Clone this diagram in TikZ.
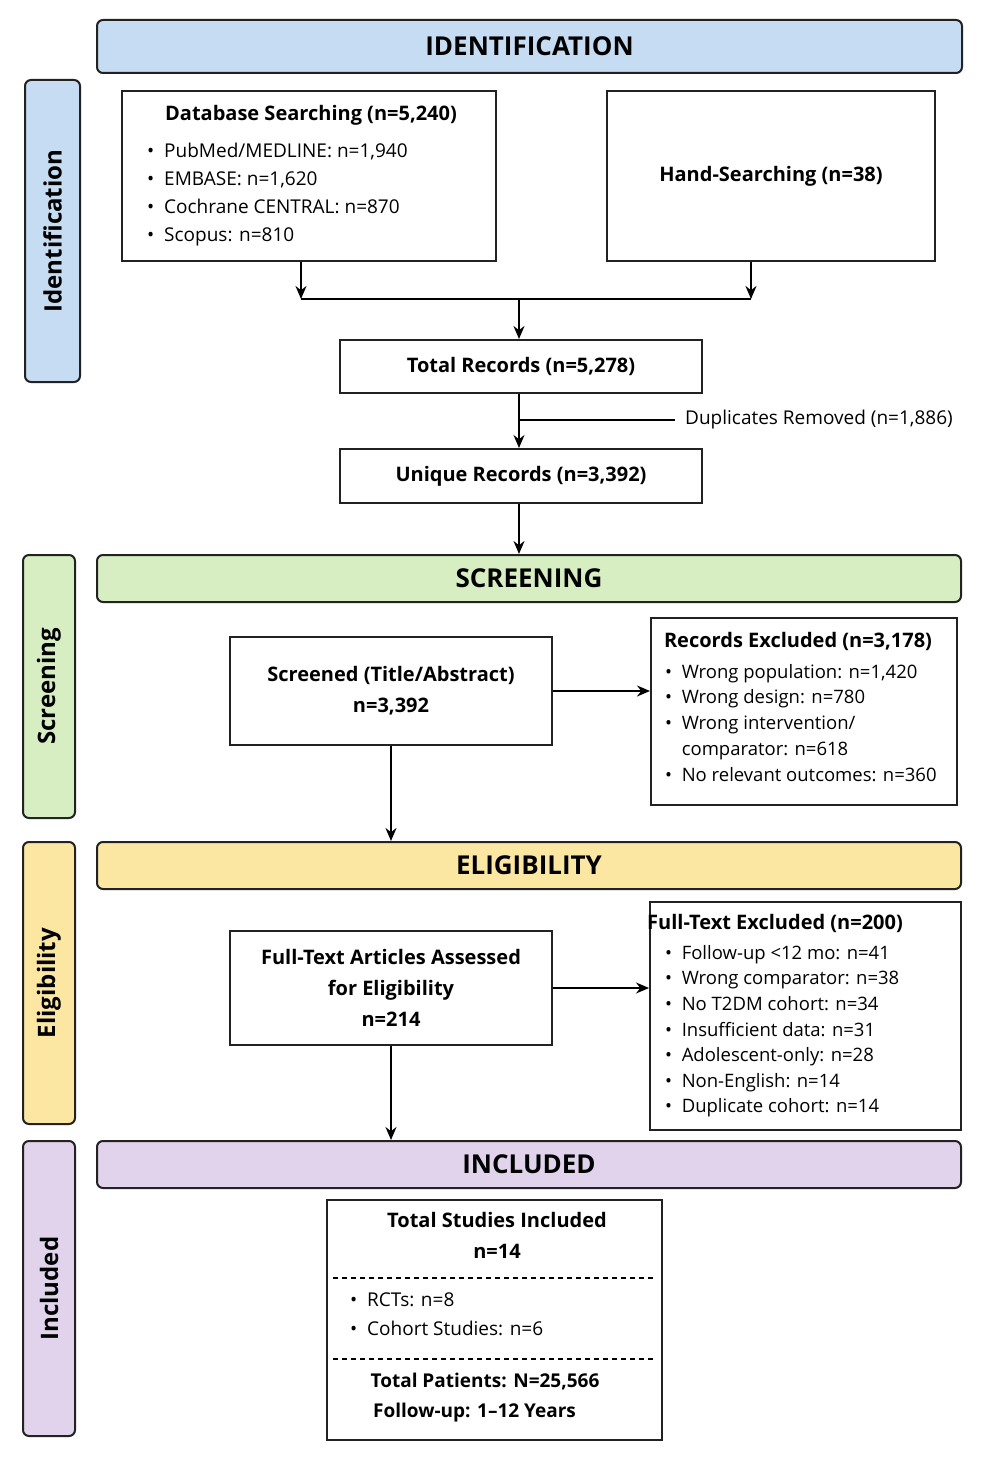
\documentclass[tikz,border=0pt]{standalone}
\usepackage{fontspec}
\setmainfont{Open Sans}
\usetikzlibrary{arrows.meta}
\definecolor{cblue}{HTML}{C6DCF2}
\definecolor{cgreen}{HTML}{D6EEC2}
\definecolor{cyellow}{HTML}{FBE6A2}
\definecolor{cpurple}{HTML}{E1D3EC}
\definecolor{edge}{HTML}{222222}
\tikzset{
  box/.style={draw=edge,line width=2pt,inner sep=0pt,fill=white},
  hdr/.style={draw=edge,line width=2pt,rounded corners=6pt,inner sep=0pt,font=\fontsize{26}{30}\selectfont\bfseries},
  side/.style={draw=edge,line width=2pt,rounded corners=6pt,inner sep=0pt,font=\fontsize{24}{28}\selectfont\bfseries},
  txt/.style={font=\fontsize{19}{28}\selectfont,inner sep=0pt},
  btxt/.style={font=\fontsize{20}{31}\selectfont\bfseries,inner sep=0pt,align=center},
  arr/.style={line width=2pt,-{Stealth[length=13pt,width=11pt]}},
  ln/.style={line width=2pt}
}
\begin{document}
\begin{tikzpicture}[x=1pt,y=-1pt]
\useasboundingbox[fill=white] (0,0) rectangle (986,1479);
% headers
\node[hdr,fill=cblue,minimum width=865pt,minimum height=53pt] (h1) at (529.5,46.5) {IDENTIFICATION};
\node[hdr,fill=cgreen,minimum width=864pt,minimum height=47pt] (h2) at (529,578.5) {SCREENING};
\node[hdr,fill=cyellow,minimum width=864pt,minimum height=47pt] (h3) at (529,865.5) {ELIGIBILITY};
\node[hdr,fill=cpurple,minimum width=864pt,minimum height=47pt] (h4) at (529,1164.5) {INCLUDED};
% side bars
\node[side,fill=cblue,minimum width=302pt,minimum height=55pt,rotate=90] (s1) at (52.5,231) {Identification};
\node[side,fill=cgreen,minimum width=263pt,minimum height=52pt,rotate=90] (s2) at (49,686.5) {Screening};
\node[side,fill=cyellow,minimum width=282pt,minimum height=52pt,rotate=90] (s3) at (49,983) {Eligibility};
\node[side,fill=cpurple,minimum width=295pt,minimum height=52pt,rotate=90] (s4) at (49,1288.5) {Included};
% identification
\node[box,minimum width=374pt,minimum height=170pt] (db) at (309,176) {};
\node[btxt,anchor=base] (dbt) at (311,121) {Database Searching (n=5,240)};
\node[txt,anchor=north west,align=left] (dbl) at (147,143) {\textbullet\ \ PubMed/MEDLINE: n=1,940\\\textbullet\ \ EMBASE: n=1,620\\\textbullet\ \ Cochrane CENTRAL: n=870\\\textbullet\ \ Scopus: n=810};
\node[box,btxt,minimum width=328pt,minimum height=170pt] (hs) at (771,176) {Hand-Searching (n=38)};
\coordinate (j1) at (301,299);
\coordinate (j2) at (751,299);
\coordinate (j0) at (519,299);
\node[box,btxt,minimum width=362pt,minimum height=53pt] (tr) at (521,366.5) {Total Records (n=5,278)};
\node[box,btxt,minimum width=362pt,minimum height=54pt] (ur) at (521,476) {Unique Records (n=3,392)};
\draw[arr] (db.south -| j1) -- (j1);
\draw[arr] (hs.south -| j2) -- (j2);
\draw[ln] (j1) -- (j2);
\draw[arr] (j0) -- (tr.north -| j0);
\draw[arr] (tr.south -| j0) -- (ur.north -| j0);
\coordinate (dr) at (675,420);
\draw[ln] (519,420) -- (dr);
\node[txt,anchor=west] (drl) at (685,420) {Duplicates Removed (n=1,886)};
\draw[arr] (ur.south -| j0) -- (h2.north -| j0);
% screening
\node[box,btxt,minimum width=322pt,minimum height=108pt] (sc) at (391,691) {Screened (Title/Abstract)\\n=3,392};
\node[box,minimum width=306pt,minimum height=187pt] (re) at (804,711.5) {};
\node[btxt,anchor=base] (ret) at (798,647) {Records Excluded (n=3,178)};
\node[txt,anchor=north west,align=left,font=\fontsize{18.5}{25.7}\selectfont] (rel) at (665,664) {\textbullet\ \ Wrong population: n=1,420\\\textbullet\ \ Wrong design: n=780\\\textbullet\ \ Wrong intervention/\\\phantom{\textbullet}\ \ comparator: n=618\\\textbullet\ \ No relevant outcomes: n=360};
\draw[arr] (sc.east) -- (re.west |- sc.east);
\draw[arr] (sc.south) -- (h3.north -| sc.south);
% eligibility
\node[box,btxt,minimum width=322pt,minimum height=114pt] (ft) at (391,988) {Full-Text Articles Assessed\\for Eligibility\\n=214};
\node[box,minimum width=311pt,minimum height=228pt] (fe) at (805.5,1016) {};
\node[btxt,anchor=base] (fet) at (775,929) {Full-Text Excluded (n=200)};
\node[txt,anchor=north west,align=left,font=\fontsize{18.5}{25.6}\selectfont] (fel) at (665,945) {\textbullet\ \ Follow-up <12 mo: n=41\\\textbullet\ \ Wrong comparator: n=38\\\textbullet\ \ No T2DM cohort: n=34\\\textbullet\ \ Insufficient data: n=31\\\textbullet\ \ Adolescent-only: n=28\\\textbullet\ \ Non-English: n=14\\\textbullet\ \ Duplicate cohort: n=14};
\draw[arr] (ft.east) -- (fe.west |- ft.east);
\draw[arr] (ft.south) -- (h4.north -| ft.south);
% included
\node[box,minimum width=335pt,minimum height=240pt] (fin) at (494.5,1320) {};
\node[btxt,anchor=north] (fint) at (497,1212) {Total Studies Included\\n=14};
\draw[ln,dashed,dash pattern=on 5pt off 4pt] (333,1278) -- (656,1278);
\node[txt,anchor=north west,align=left,font=\fontsize{19}{29}\selectfont] (finl) at (350,1293) {\textbullet\ \ RCTs: n=8\\\textbullet\ \ Cohort Studies: n=6};
\draw[ln,dashed,dash pattern=on 5pt off 4pt] (333,1359) -- (656,1359);
\node[btxt,anchor=north,font=\fontsize{19}{30}\selectfont\bfseries] (finb) at (485,1373) {Total Patients: N=25,566\\\hspace*{-3pt}Follow-up: 1--12 Years\hspace*{18pt}};
\end{tikzpicture}
\end{document}
